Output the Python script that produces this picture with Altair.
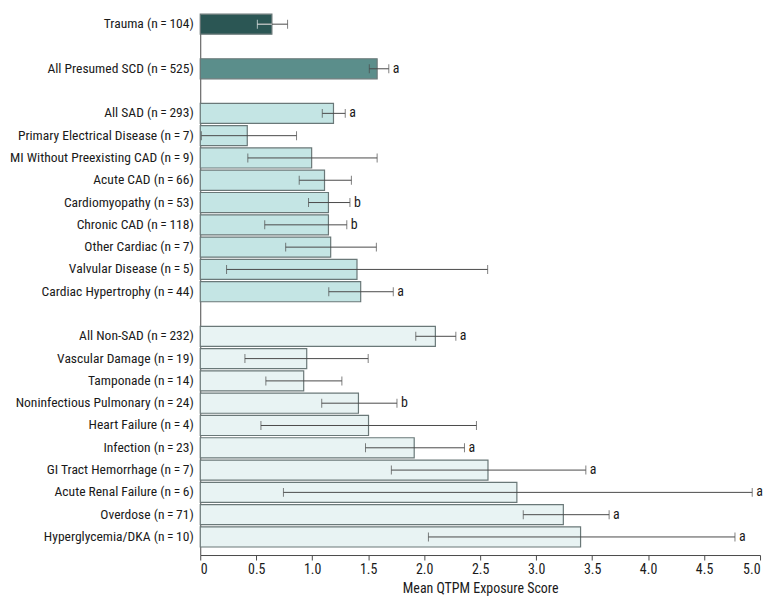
import altair as alt
import pandas as pd

T = "\u2009"
labels = [
    f"Trauma (n{T}={T}104)",
    f"All Presumed SCD (n{T}={T}525)",
    f"All SAD (n{T}={T}293)",
    f"Primary Electrical Disease (n{T}={T}7)",
    f"MI Without Preexisting CAD (n{T}={T}9)",
    f"Acute CAD (n{T}={T}66)",
    f"Cardiomyopathy (n{T}={T}53)",
    f"Chronic CAD (n{T}={T}118)",
    f"Other Cardiac (n{T}={T}7)",
    f"Valvular Disease (n{T}={T}5)",
    f"Cardiac Hypertrophy (n{T}={T}44)",
    f"All Non-SAD (n{T}={T}232)",
    f"Vascular Damage (n{T}={T}19)",
    f"Tamponade (n{T}={T}14)",
    f"Noninfectious Pulmonary (n{T}={T}24)",
    f"Heart Failure (n{T}={T}4)",
    f"Infection (n{T}={T}23)",
    f"GI Tract Hemorrhage (n{T}={T}7)",
    f"Acute Renal Failure (n{T}={T}6)",
    f"Overdose (n{T}={T}71)",
    f"Hyperglycemia/DKA (n{T}={T}10)",
]
means = [0.64, 1.58, 1.19, 0.42, 0.995, 1.11, 1.145, 1.145, 1.165, 1.40, 1.433,
         2.10, 0.951, 0.924, 1.413, 1.503, 1.911, 2.57, 2.828, 3.243, 3.397]
lows = [0.51, 1.51, 1.09, 0.01, 0.425, 0.884, 0.967, 0.576, 0.763, 0.235, 1.148,
        1.925, 0.399, 0.586, 1.085, 0.542, 1.476, 1.707, 0.743, 2.885, 2.038]
highs = [0.78, 1.684, 1.295, 0.86, 1.58, 1.35, 1.337, 1.309, 1.573, 2.567, 1.724,
         2.283, 1.50, 1.265, 1.757, 2.467, 2.36, 3.444, 4.93, 3.652, 4.776]
letters = ["", "a", "a", "", "", "", "b", "b", "", "", "a",
           "a", "", "", "b", "", "a", "a", "a", "a", "a"]
groups = ["Trauma", "SCD"] + ["SAD"] * 9 + ["NonSAD"] * 10

group_names = ["Trauma", "SCD", "SAD", "NonSAD"]
group_colors = ["#2b5654", "#5b8e8b", "#c4e5e4", "#e8f3f3"]

# category order with blank spacer rows
order = ([labels[0], " ", labels[1], "  "] + labels[2:11] + ["   "] + labels[11:])

df = pd.DataFrame({"label": labels, "mean": means, "low": lows, "high": highs,
                   "letter": letters, "grp": groups})

FONT = "Liberation Sans Narrow, Roboto Condensed, DejaVu Sans Condensed, Liberation Sans, sans-serif"
DARK = "#4a4a4a"

y = alt.Y("label:N",
          scale=alt.Scale(domain=order, paddingInner=0.1, paddingOuter=0.18, align=0),
          axis=alt.Axis(title=None, ticks=False, domain=True, domainColor=DARK,
                        labelPadding=7, labelFontSize=13.6, labelFont=FONT,
                        labelColor="#1a1a1a", labelLimit=400))

xscale = alt.Scale(domain=[0, 5], nice=False)

base = alt.Chart(df)

bars = base.mark_bar(stroke="#6a7878", strokeWidth=1.2).encode(
    x=alt.X("mean:Q", scale=xscale,
            axis=alt.Axis(title="Mean QTPM Exposure Score", values=[0, 0.5, 1, 1.5, 2, 2.5, 3, 3.5, 4, 4.5, 5],
                          labelExpr="datum.value == 0 ? '0' : format(datum.value, '.1f')",
                          labelFont=FONT, labelFontSize=14, labelColor="#1a1a1a",
                          titleFont=FONT, titleFontSize=14, titleFontWeight="normal",
                          titleColor="#1a1a1a", titlePadding=5,
                          tickColor=DARK, tickSize=5, domainColor=DARK, grid=False,
                          labelPadding=3)),
    y=y,
    color=alt.Color("grp:N", scale=alt.Scale(domain=group_names, range=group_colors), legend=None),
)

err = base.mark_rule(color=DARK, strokeWidth=1).encode(
    x=alt.X("low:Q", scale=xscale), x2="high:Q", y=y)

err_inner = base.transform_filter("datum.grp == 'Trauma'").mark_rule(
    color="#e8f0ef", strokeWidth=1).encode(
    x=alt.X("low:Q", scale=xscale), x2="mean:Q", y=y)

cap_lo = base.mark_tick(thickness=1, size=9).encode(
    x=alt.X("low:Q", scale=xscale), y=y,
    color=alt.condition("datum.grp == 'Trauma'", alt.value("#e8f0ef"), alt.value(DARK)))

cap_hi = base.mark_tick(thickness=1, size=9, color=DARK).encode(
    x=alt.X("high:Q", scale=xscale), y=y)

txt = base.mark_text(align="left", baseline="middle", dx=4, font=FONT, fontSize=14,
                     color="#1a1a1a").encode(
    x=alt.X("high:Q", scale=xscale), y=y, text="letter:N")

chart = alt.layer(bars, err, err_inner, cap_lo, cap_hi, txt).properties(
    width=562, height=543,
    autosize=alt.AutoSizeParams(type="none"),
    padding={"left": 193, "top": 5, "right": 12, "bottom": 50},
    background="white",
).configure_view(stroke=None)

chart.save("out.html", embed_options={"renderer": "svg", "actions": False})
